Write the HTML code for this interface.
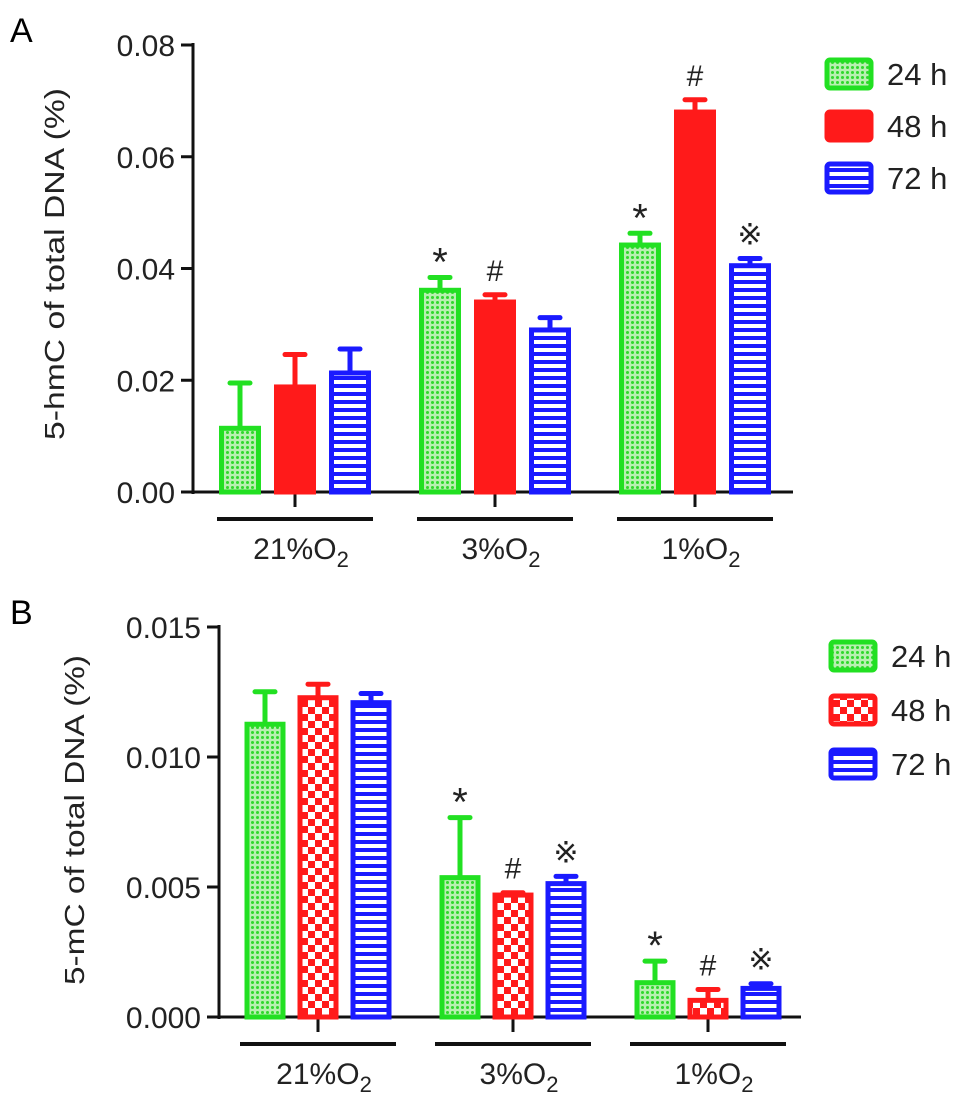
<!DOCTYPE html>
<html><head><meta charset="utf-8"><style>
html,body{margin:0;padding:0;background:#fff;}
svg{display:block;font-family:"Liberation Sans",Arial,sans-serif;}
</style></head><body>
<svg id="fig" width="969" height="1104" viewBox="0 0 969 1104" xmlns="http://www.w3.org/2000/svg">
<defs>
<pattern id="pg" width="5" height="5" patternUnits="userSpaceOnUse"><rect width="5" height="5" fill="#b8f0b0"/><circle cx="2.5" cy="2.5" r="1.5" fill="#30d82c"/></pattern>
<pattern id="pb" width="8" height="8" patternUnits="userSpaceOnUse"><rect width="8" height="8" fill="#fff"/><rect width="8" height="4" fill="#1a1aff"/></pattern>
<pattern id="pr" width="14" height="14" patternUnits="userSpaceOnUse"><rect width="14" height="14" fill="#ff1a1a"/><rect width="7" height="7" fill="#fff"/><rect x="7" y="7" width="7" height="7" fill="#fff"/></pattern>
</defs>
<text x="10" y="42" font-size="34">A</text>
<text x="10" y="624" font-size="34">B</text>
<g id="gA"></g><g id="gB"></g>
</svg>
<script>
const categories = ["21%O2","3%O2","1%O2"];
const seriesNames = ["24 h","48 h","72 h"];
const aMeans = [[0.0114,0.0361,0.0442],[0.0188,0.0340,0.0680],[0.0213,0.0290,0.0405]];
const aErrs  = [[0.0081,0.0023,0.0021],[0.0058,0.0013,0.0022],[0.0043,0.0022,0.0013]];
const aMarks = [["","*","*"],["","#","#"],["","","※"]];
const aTicks = [0,0.02,0.04,0.06,0.08];
const aTickLabels = ["0.00","0.02","0.04","0.06","0.08"];
const bMeans = [[0.01126,0.00536,0.00132],[0.01228,0.00469,0.00064],[0.01209,0.00513,0.00110]];
const bErrs  = [[0.00125,0.00231,0.00083],[0.00052,0.00009,0.00042],[0.00035,0.00028,0.00018]];
const bMarks = [["","*","*"],["","#","#"],["","※","※"]];
const bTicks = [0,0.005,0.010,0.015];
const bTickLabels = ["0.000","0.005","0.010","0.015"];

const NS="http://www.w3.org/2000/svg";
function mk(parent,tag,attrs){const e=document.createElementNS(NS,tag);for(const k in attrs)e.setAttribute(k,attrs[k]);parent.appendChild(e);return e;}
const colors=["#22e022","#ff1a1a","#1a1aff"];

function drawPanel(g,cfg){
  const y=v=>cfg.y0-(v/cfg.max)*(cfg.y0-cfg.yTop);
  const gx=i=>cfg.g0+i*cfg.gStep;
  const fills=cfg.fills;
  let ax=mk(g,'line',{x1:cfg.ax,y1:cfg.yTop-2,x2:cfg.ax,y2:cfg.y0+2,stroke:'#111','stroke-width':3});
  
  
  let xa=mk(g,'line',{x1:cfg.ax-12,y1:cfg.y0,x2:cfg.axEnd,y2:cfg.y0,stroke:'#111','stroke-width':3});
  
  
  cfg.ticks.forEach((t,i)=>{
    let l=mk(g,'line',{x1:cfg.ax-12,y1:y(t),x2:cfg.ax,y2:y(t),stroke:'#111','stroke-width':3});
    
    
    let tx=mk(g,'text',{x:cfg.ax-18,y:y(t)+11,'font-size':30,'text-anchor':'end',fill:'#222'});
    tx.textContent=cfg.tickLabels[i];
    
    
  });
  let tt=mk(g,'text',{x:0,y:0,'font-size':28,'text-anchor':'middle',fill:'#222',transform:`translate(${cfg.titleX},${cfg.titleY}) rotate(-90)`,textLength:cfg.titleLen,lengthAdjust:'spacingAndGlyphs'});
  tt.textContent=cfg.title;
  
  
  categories.forEach((c,i)=>{
    let tk=mk(g,'line',{x1:gx(i),y1:cfg.y0,x2:gx(i),y2:cfg.y0+15,stroke:'#111','stroke-width':3});
    
    
    let ul=mk(g,'line',{x1:gx(i)-78,y1:cfg.y0+27,x2:gx(i)+78,y2:cfg.y0+27,stroke:'#111','stroke-width':4});
    
    
    let lb=mk(g,'text',{x:gx(i)+6,y:cfg.y0+67,'font-size':30,'text-anchor':'middle',fill:'#222'});
    lb.innerHTML=c.slice(0,-1)+'<tspan font-size="22" dy="8">'+c.slice(-1)+'</tspan>';
    
    
  });
  for(let s=0;s<3;s++){
    for(let i=0;i<3;i++){
      const cx=gx(i)+(s-1)*cfg.bStep, m=cfg.means[s][i], e=cfg.errs[s][i];
      const top=y(m), et=y(m+e);
      let el=mk(g,'line',{x1:cx,y1:top,x2:cx,y2:et,stroke:colors[s],'stroke-width':5});
      
      
      let cap=mk(g,'line',{x1:cx-10,y1:et,x2:cx+10,y2:et,stroke:colors[s],'stroke-width':5,'stroke-linecap':'round'});
      
      
      let r=mk(g,'rect',{x:cx-cfg.bw/2,y:top,width:cfg.bw,height:Math.max(cfg.y0-top,1),fill:fills[s],stroke:colors[s],'stroke-width':5});
      
      
      const mark=cfg.marks[s][i];
      if(mark){
        let t=mk(g,'text',{x:cx,y:et-(mark==='*'?2:14),'font-size':mark==='*'?40:30,'text-anchor':'middle',fill:'#222'});
        t.textContent=mark;
        
        
      }
    }
  }
  seriesNames.forEach((n,s)=>{
    const ly=cfg.legY+s*cfg.legStep;
    let r=mk(g,'rect',{x:cfg.legX,y:ly,width:44,height:28,rx:3,fill:fills[s],stroke:colors[s],'stroke-width':5});
    
    
    let t=mk(g,'text',{x:cfg.legX+60,y:ly+25,'font-size':31,fill:'#222'});
    t.textContent=n;
    
    
  });
}
drawPanel(document.getElementById('gA'),{means:aMeans,errs:aErrs,marks:aMarks,ticks:aTicks,tickLabels:aTickLabels,max:0.08,
  y0:492,yTop:45,ax:193,axEnd:793,g0:295,gStep:200,bStep:55,bw:37,fills:['url(#pg)','#ff1a1a','url(#pb)'],
  title:'5-hmC of total DNA (%)',titleX:64,titleY:264,titleLen:352,legX:827,legY:60,legStep:52});
drawPanel(document.getElementById('gB'),{means:bMeans,errs:bErrs,marks:bMarks,ticks:bTicks,tickLabels:bTickLabels,max:0.015,
  y0:1017,yTop:627,ax:219,axEnd:801,g0:318,gStep:195,bStep:53,bw:36,fills:['url(#pg)','url(#pr)','url(#pb)'],
  title:'5-mC of total DNA (%)',titleX:84,titleY:820,titleLen:330,legX:831,legY:642,legStep:54});
</script>
</body></html>
